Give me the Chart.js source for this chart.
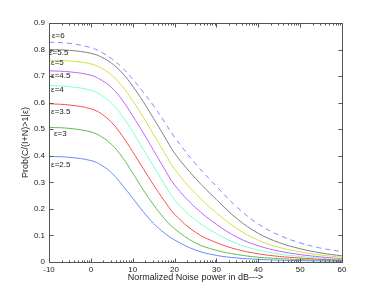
<!DOCTYPE html>
<html><head><meta charset="utf-8">
<script src="https://cdn.jsdelivr.net/npm/chart.js@4/dist/chart.umd.min.js"></script>
<style>html,body{margin:0;padding:0;background:#fff;}#wrap{width:378px;height:295px;}</style>
</head><body><div id="wrap"><canvas id="c" width="378" height="295"></canvas></div>
<script>
const noiseDb = [-10,-5,0,2.5,5,7.5,10,12.5,15,17.5,20,25,30,35,40,45,50,55,60];
const seriesNames = ["ε=2.5","ε=3","ε=3.5","ε=4","ε=4.5","ε=5","ε=5.5","ε=6"];
const eps25 = [0.398,0.394,0.382,0.365,0.335,0.290,0.240,0.190,0.145,0.110,0.083,0.045,0.025,0.015,0.010,0.007,0.005,0.004,0.003];
const eps30 = [0.507,0.503,0.490,0.472,0.442,0.395,0.335,0.272,0.215,0.165,0.125,0.072,0.044,0.028,0.018,0.013,0.009,0.007,0.005];
const eps35 = [0.596,0.591,0.577,0.558,0.525,0.475,0.415,0.352,0.290,0.232,0.180,0.112,0.073,0.047,0.031,0.021,0.015,0.010,0.007];
const eps40 = [0.665,0.660,0.647,0.628,0.597,0.550,0.490,0.425,0.360,0.295,0.235,0.158,0.107,0.069,0.045,0.030,0.021,0.014,0.010];
const eps45 = [0.720,0.716,0.703,0.685,0.656,0.610,0.550,0.487,0.420,0.353,0.290,0.205,0.142,0.093,0.061,0.041,0.028,0.019,0.012];
const eps50 = [0.760,0.757,0.746,0.730,0.703,0.662,0.607,0.546,0.480,0.414,0.350,0.258,0.185,0.125,0.082,0.055,0.038,0.026,0.018];
const eps55 = [0.800,0.797,0.786,0.772,0.748,0.712,0.662,0.604,0.540,0.475,0.410,0.315,0.235,0.162,0.108,0.073,0.050,0.034,0.023];
const eps60 = [0.828,0.823,0.807,0.790,0.765,0.732,0.688,0.640,0.588,0.530,0.470,0.370,0.285,0.205,0.143,0.101,0.072,0.052,0.039];
const xTicks = [-10,0,10,20,30,40,50,60];
const yTicks = [0,0.1,0.2,0.3,0.4,0.5,0.6,0.7,0.8,0.9];
const xTitle = "Normalized Noise power in dB--->";
const yTitle = "Prob(C/(I+N)>1|ε)";

const allSeries = [eps25,eps30,eps35,eps40,eps45,eps50,eps55,eps60];
const colors = ["#6a88ff","#5cbf4c","#ff4c4c","#7fffd4","#c060ff","#d4e040","#808080","#7090ff"];
const labelPos = [[-9.5,0.365],[-8.8,0.484],[-9.5,0.565],[-9.5,0.647],[-9.5,0.700],[-9.5,0.749],[-10,0.787],[-9.3,0.850]];

const datasets = allSeries.map((vals,i)=>({
  label: seriesNames[i],
  data: noiseDb.map((x,j)=>({x:x,y:vals[j]})),
  borderColor: colors[i],
  borderWidth: 1,
  borderDash: i===7 ? [5,4] : [],
  pointRadius: 0,
  fill: false,
  tension: 0.4
}));

const tickFont = {family: "'Liberation Sans', Arial, sans-serif", size: 8};
const titleFont = {family: "'Liberation Sans', Arial, sans-serif", size: 9};

const boxPlugin = {
  id: 'box',
  afterDraw(chart){
    const ctx = chart.ctx, a = chart.chartArea, xs = chart.scales.x, ys = chart.scales.y;
    ctx.save();
    ctx.strokeStyle = '#555'; ctx.lineWidth = 1;
    const L = Math.round(a.left)+0.5, R = Math.round(a.right)+0.5, T = Math.round(a.top)+0.5, B = Math.round(a.bottom)+0.5;
    ctx.strokeRect(L, T, R-L, B-T);
    ctx.beginPath();
    yTicks.forEach(v=>{
      const y = Math.round(ys.getPixelForValue(v))+0.5;
      ctx.moveTo(L,y); ctx.lineTo(L+4,y);
      ctx.moveTo(R,y); ctx.lineTo(R-4,y);
    });
    xTicks.forEach(v=>{
      const x = Math.round(xs.getPixelForValue(v))+0.5;
      ctx.moveTo(x,B); ctx.lineTo(x,B-4);
      ctx.moveTo(x,T); ctx.lineTo(x,T+4);
    });
    for (let k=0;k<xTicks.length-1;k++){
      for (let m=2;m<=9;m++){
        const v = xTicks[k] + 10*Math.log10(m);
        const x = Math.round(xs.getPixelForValue(v))+0.5;
        ctx.moveTo(x,B); ctx.lineTo(x,B-2);
        ctx.moveTo(x,T); ctx.lineTo(x,T+2);
      }
    }
    ctx.stroke();
    ctx.fillStyle = '#222';
    ctx.font = "8px 'Liberation Sans', Arial, sans-serif";
    ctx.textBaseline = 'middle'; ctx.textAlign = 'left';
    labelPos.forEach((p,i)=>{
      ctx.fillText(seriesNames[i], xs.getPixelForValue(p[0]), ys.getPixelForValue(p[1]));
    });
    ctx.restore();
  }
};

new Chart(document.getElementById('c'), {
  type: 'line',
  data: {datasets},
  options: {
    responsive: false,
    animation: false,
    events: [],
    layout: {padding: {left: 0, right: 36, top: 23, bottom: 12}},
    plugins: {legend: {display: false}, tooltip: {enabled: false}},
    scales: {
      x: {
        type: 'linear', min: -10, max: 60,
        afterBuildTicks(s){ s.ticks = xTicks.map(v=>({value:v})); },
        afterFit(s){ s.height = 21; },
        grid: {display: false, drawTicks: false},
        border: {display: false},
        ticks: {font: tickFont, color: '#222', padding: 3, maxRotation: 0},
        title: {display: true, text: xTitle, font: titleFont, color: '#222', padding: {top: 0, bottom: 0}}
      },
      y: {
        min: 0, max: 0.9,
        afterBuildTicks(s){ s.ticks = yTicks.map(v=>({value:v})); },
        afterFit(s){ s.width = 49; },
        grid: {display: false, drawTicks: false},
        border: {display: false},
        ticks: {font: tickFont, color: '#222', padding: 4},
        title: {display: true, text: yTitle, font: titleFont, color: '#222', padding: {top: 20, bottom: 0}}
      }
    }
  },
  plugins: [boxPlugin]
});
</script></body></html>
